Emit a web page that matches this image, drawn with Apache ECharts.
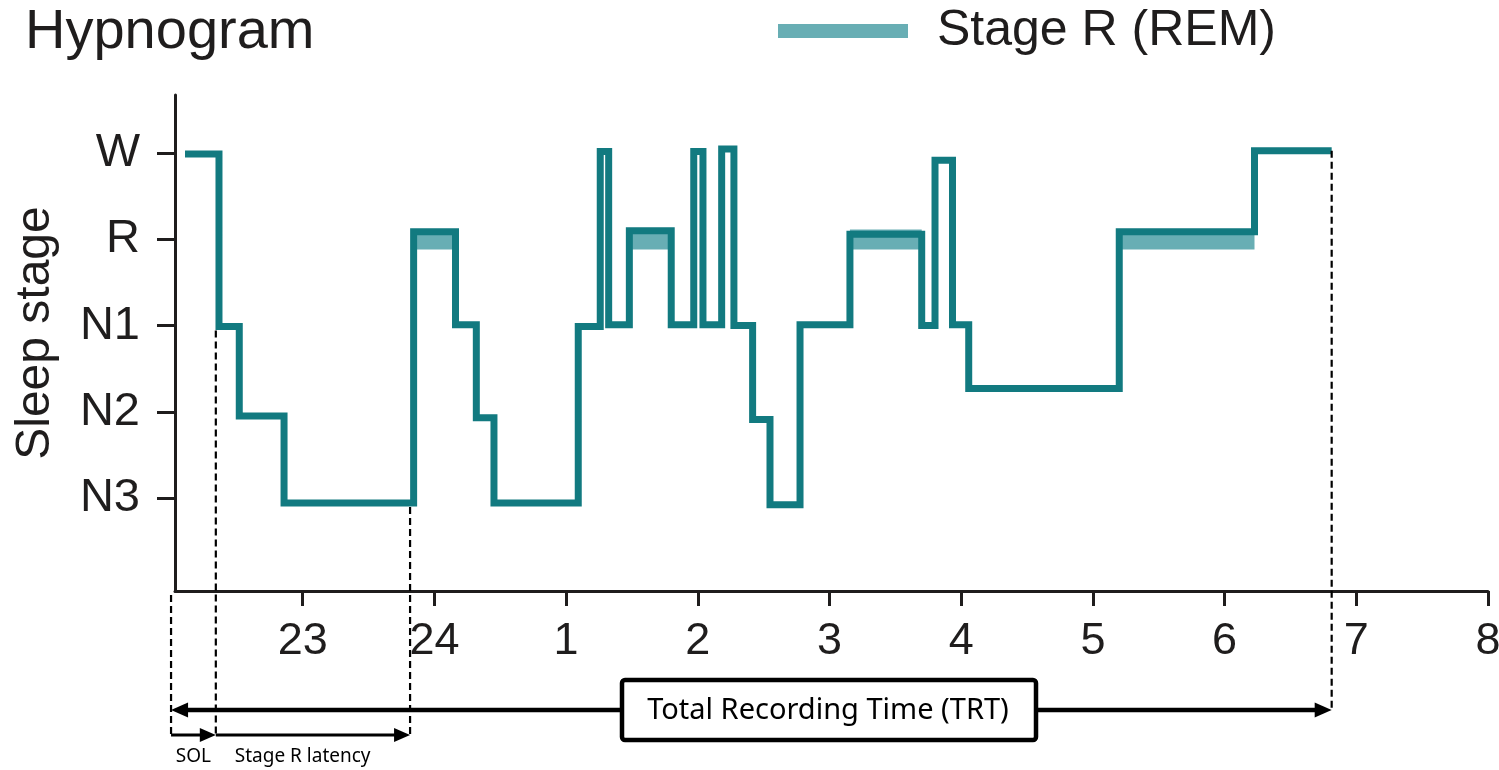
<!DOCTYPE html>
<html>
<head>
<meta charset="utf-8">
<title>Hypnogram</title>
<script src="https://cdn.jsdelivr.net/npm/echarts@6/dist/echarts.min.js"></script>
<style>
  html, body { margin: 0; padding: 0; background: #ffffff; }
  #chart { width: 1499px; height: 770px; }
</style>
</head>
<body>
<div id="chart"></div>
<script>
// Stage labels on the y axis (value 0 = N3 ... 4 = W)
const stageLabels = ['N3', 'N2', 'N1', 'R', 'W'];
const stageTicks = [0, 1, 2, 3, 4];

// Clock hours on the x axis; hours after midnight continue past 24
const hourTicks = [23, 24, 25, 26, 27, 28, 29, 30, 31, 32];

// Start time (h) of each scored period, its stage and its plotted level
const epochStart = [22.106, 22.364, 22.518, 22.858, 23.842, 24.160, 24.318, 24.452,
  25.092, 25.259, 25.323, 25.480, 25.798, 25.969, 26.039, 26.181, 26.274, 26.416,
  26.548, 26.776, 27.155, 27.700, 27.801, 27.934, 28.057, 29.200, 30.227];
const epochStage = ['W', 'N1', 'N2', 'N3', 'R', 'N1', 'N2', 'N3',
  'N1', 'W', 'N1', 'R', 'N1', 'W', 'N1', 'W', 'N1', 'N2',
  'N3', 'N1', 'R', 'N1', 'W', 'N1', 'N2', 'R', 'W'];
const epochLevel = [3.99, 1.99, 0.95, -0.06, 3.09, 2.01, 0.93, -0.06,
  1.99, 4.02, 2.01, 3.10, 2.01, 4.02, 2.01, 4.05, 2.00, 0.91,
  -0.08, 2.01, 3.06, 2.00, 3.92, 2.01, 1.27, 3.09, 4.03];

// Recording markers (h)
const recordStart = 22.0;
const recordEnd = 30.813;
const sleepOnset = 22.34;
const remOnset = 23.815;
const remLevel = 3;

const LINE = '#127a80';
const BAND = '#68aeb4';
const AXIS = '#1f1d1d';
const FONT = '"Liberation Sans", Arial, Helvetica, sans-serif';
const NOTE_FONT = '"Noto Sans", "Open Sans", sans-serif';

// Step line through every period, closed at the end of the recording
const hypnoData = epochStart.map((t, i) => [t, epochLevel[i]]);
hypnoData.push([recordEnd, epochLevel[epochLevel.length - 1]]);

// One wide band per REM period, drawn under the step line
const remSeries = [];
epochStage.forEach((s, i) => {
  if (s !== 'R') return;
  const end = i + 1 < epochStart.length ? epochStart[i + 1] : recordEnd;
  remSeries.push({
    type: 'line',
    name: 'Stage R (REM)',
    data: [[epochStart[i], remLevel], [end, remLevel]],
    symbol: 'none',
    color: BAND,
    lineStyle: { color: BAND, width: 20, cap: 'butt' },
    z: 2,
    silent: true
  });
});

const chart = echarts.init(document.getElementById('chart'), null, { renderer: 'canvas' });

chart.setOption({
  animation: false,
  backgroundColor: '#ffffff',
  textStyle: { fontFamily: FONT },
  title: {
    text: 'Hypnogram',
    left: 25,
    top: 5,
    padding: 0,
    textStyle: { fontSize: 56, fontWeight: 'normal', color: AXIS, fontFamily: FONT }
  },
  legend: {
    data: ['Stage R (REM)'],
    left: 778,
    top: 6,
    padding: 0,
    icon: 'rect',
    itemWidth: 130,
    itemHeight: 14,
    itemStyle: { borderWidth: 0 },
    selectedMode: false,
    textStyle: { fontSize: 50, color: AXIS, fontFamily: FONT, padding: [0, 0, 0, 24] }
  },
  grid: {
    left: 175,
    right: 11,
    top: 95,
    bottom: 179,
    outerBoundsMode: 'none',
    containLabel: false
  },
  xAxis: {
    type: 'value',
    min: 22.03,
    max: 32,
    axisLine: { show: true, onZero: false, lineStyle: { color: AXIS, width: 3 } },
    axisTick: { show: true, customValues: hourTicks, length: 15, lineStyle: { color: AXIS, width: 3 } },
    axisLabel: {
      customValues: hourTicks,
      formatter: v => String(v > 24 ? v - 24 : v),
      fontSize: 45,
      color: AXIS,
      margin: 28,
      fontFamily: FONT
    },
    splitLine: { show: false }
  },
  yAxis: {
    type: 'value',
    min: -1.08,
    max: 4.676,
    axisLine: { show: true, onZero: false, lineStyle: { color: AXIS, width: 3 } },
    axisTick: { show: true, customValues: stageTicks, length: 18, lineStyle: { color: AXIS, width: 3 } },
    axisLabel: {
      customValues: stageTicks,
      formatter: v => stageLabels[Math.round(v)],
      fontSize: 47,
      color: AXIS,
      margin: 35,
      fontFamily: FONT
    },
    splitLine: { show: false },
    name: 'Sleep stage',
    nameLocation: 'middle',
    nameRotate: 90,
    nameGap: 115,
    nameTextStyle: { fontSize: 48, color: AXIS, fontFamily: FONT, padding: [0, 0, 0, 20] }
  },
  series: remSeries.concat([{
    type: 'line',
    name: 'Hypnogram',
    data: hypnoData,
    step: 'end',
    symbol: 'none',
    color: LINE,
    lineStyle: { color: LINE, width: 7, join: 'miter', cap: 'butt' },
    z: 3,
    silent: true
  }])
});

// Timing annotations below the axis, placed from the recording markers
function px(t, v) { return chart.convertToPixel({ gridIndex: 0 }, [t, v]); }
const axisY = px(recordStart, -1.08)[1];
const xStart = px(recordStart, 0)[0];
const xSleep = px(sleepOnset, 0)[0];
const xRem = px(remOnset, 0)[0];
const xEnd = px(recordEnd, 0)[0];
const trtY = 710;
const latY = 735;

function vdash(x, y1, y2) {
  return { type: 'line', z: 10, shape: { x1: x, y1: y1, x2: x, y2: y2 },
    style: { stroke: '#000', lineWidth: 2.2, lineDash: [7, 4] } };
}
function hline(x1, x2, y, w) {
  return { type: 'line', z: 10, shape: { x1: x1, y1: y, x2: x2, y2: y },
    style: { stroke: '#000', lineWidth: w } };
}
function head(x, y, dir, len, half) {
  return { type: 'polygon', z: 11,
    shape: { points: [[x, y], [x - dir * len, y - half], [x - dir * len, y + half]] },
    style: { fill: '#000' } };
}

const graphics = [
  vdash(xStart, axisY + 4, latY),
  vdash(xSleep, px(sleepOnset, 1.99)[1] + 4, latY),
  vdash(xRem, px(remOnset, -0.06)[1] + 4, latY),
  vdash(xEnd, px(recordEnd, 4.03)[1], trtY),
  hline(xStart + 8, xEnd - 8, trtY, 4.5),
  head(xStart, trtY, -1, 17, 7.5),
  head(xEnd, trtY, 1, 17, 7.5),
  hline(xStart, xSleep - 8, latY, 3),
  head(xSleep, latY, 1, 16, 7),
  hline(xSleep, xRem - 8, latY, 3),
  head(xRem, latY, 1, 16, 7),
  { type: 'rect', z: 12, shape: { x: 622, y: 680, width: 414, height: 60, r: 3 },
    style: { fill: '#fff', stroke: '#000', lineWidth: 4.5 } },
  { type: 'text', z: 13, x: 828, y: 711,
    style: { text: 'Total Recording Time (TRT)', fontSize: 29, fontFamily: NOTE_FONT,
      fill: '#000', align: 'center', verticalAlign: 'middle' } },
  { type: 'text', z: 13, x: (xStart + xSleep) / 2, y: 757,
    style: { text: 'SOL', fontSize: 19, fontFamily: NOTE_FONT, fill: '#000',
      align: 'center', verticalAlign: 'middle' } },
  { type: 'text', z: 13, x: xSleep + 19, y: 757,
    style: { text: 'Stage R latency', fontSize: 19, fontFamily: NOTE_FONT, fill: '#000',
      align: 'left', verticalAlign: 'middle' } }
];

chart.setOption({ graphic: graphics });
</script>
</body>
</html>
